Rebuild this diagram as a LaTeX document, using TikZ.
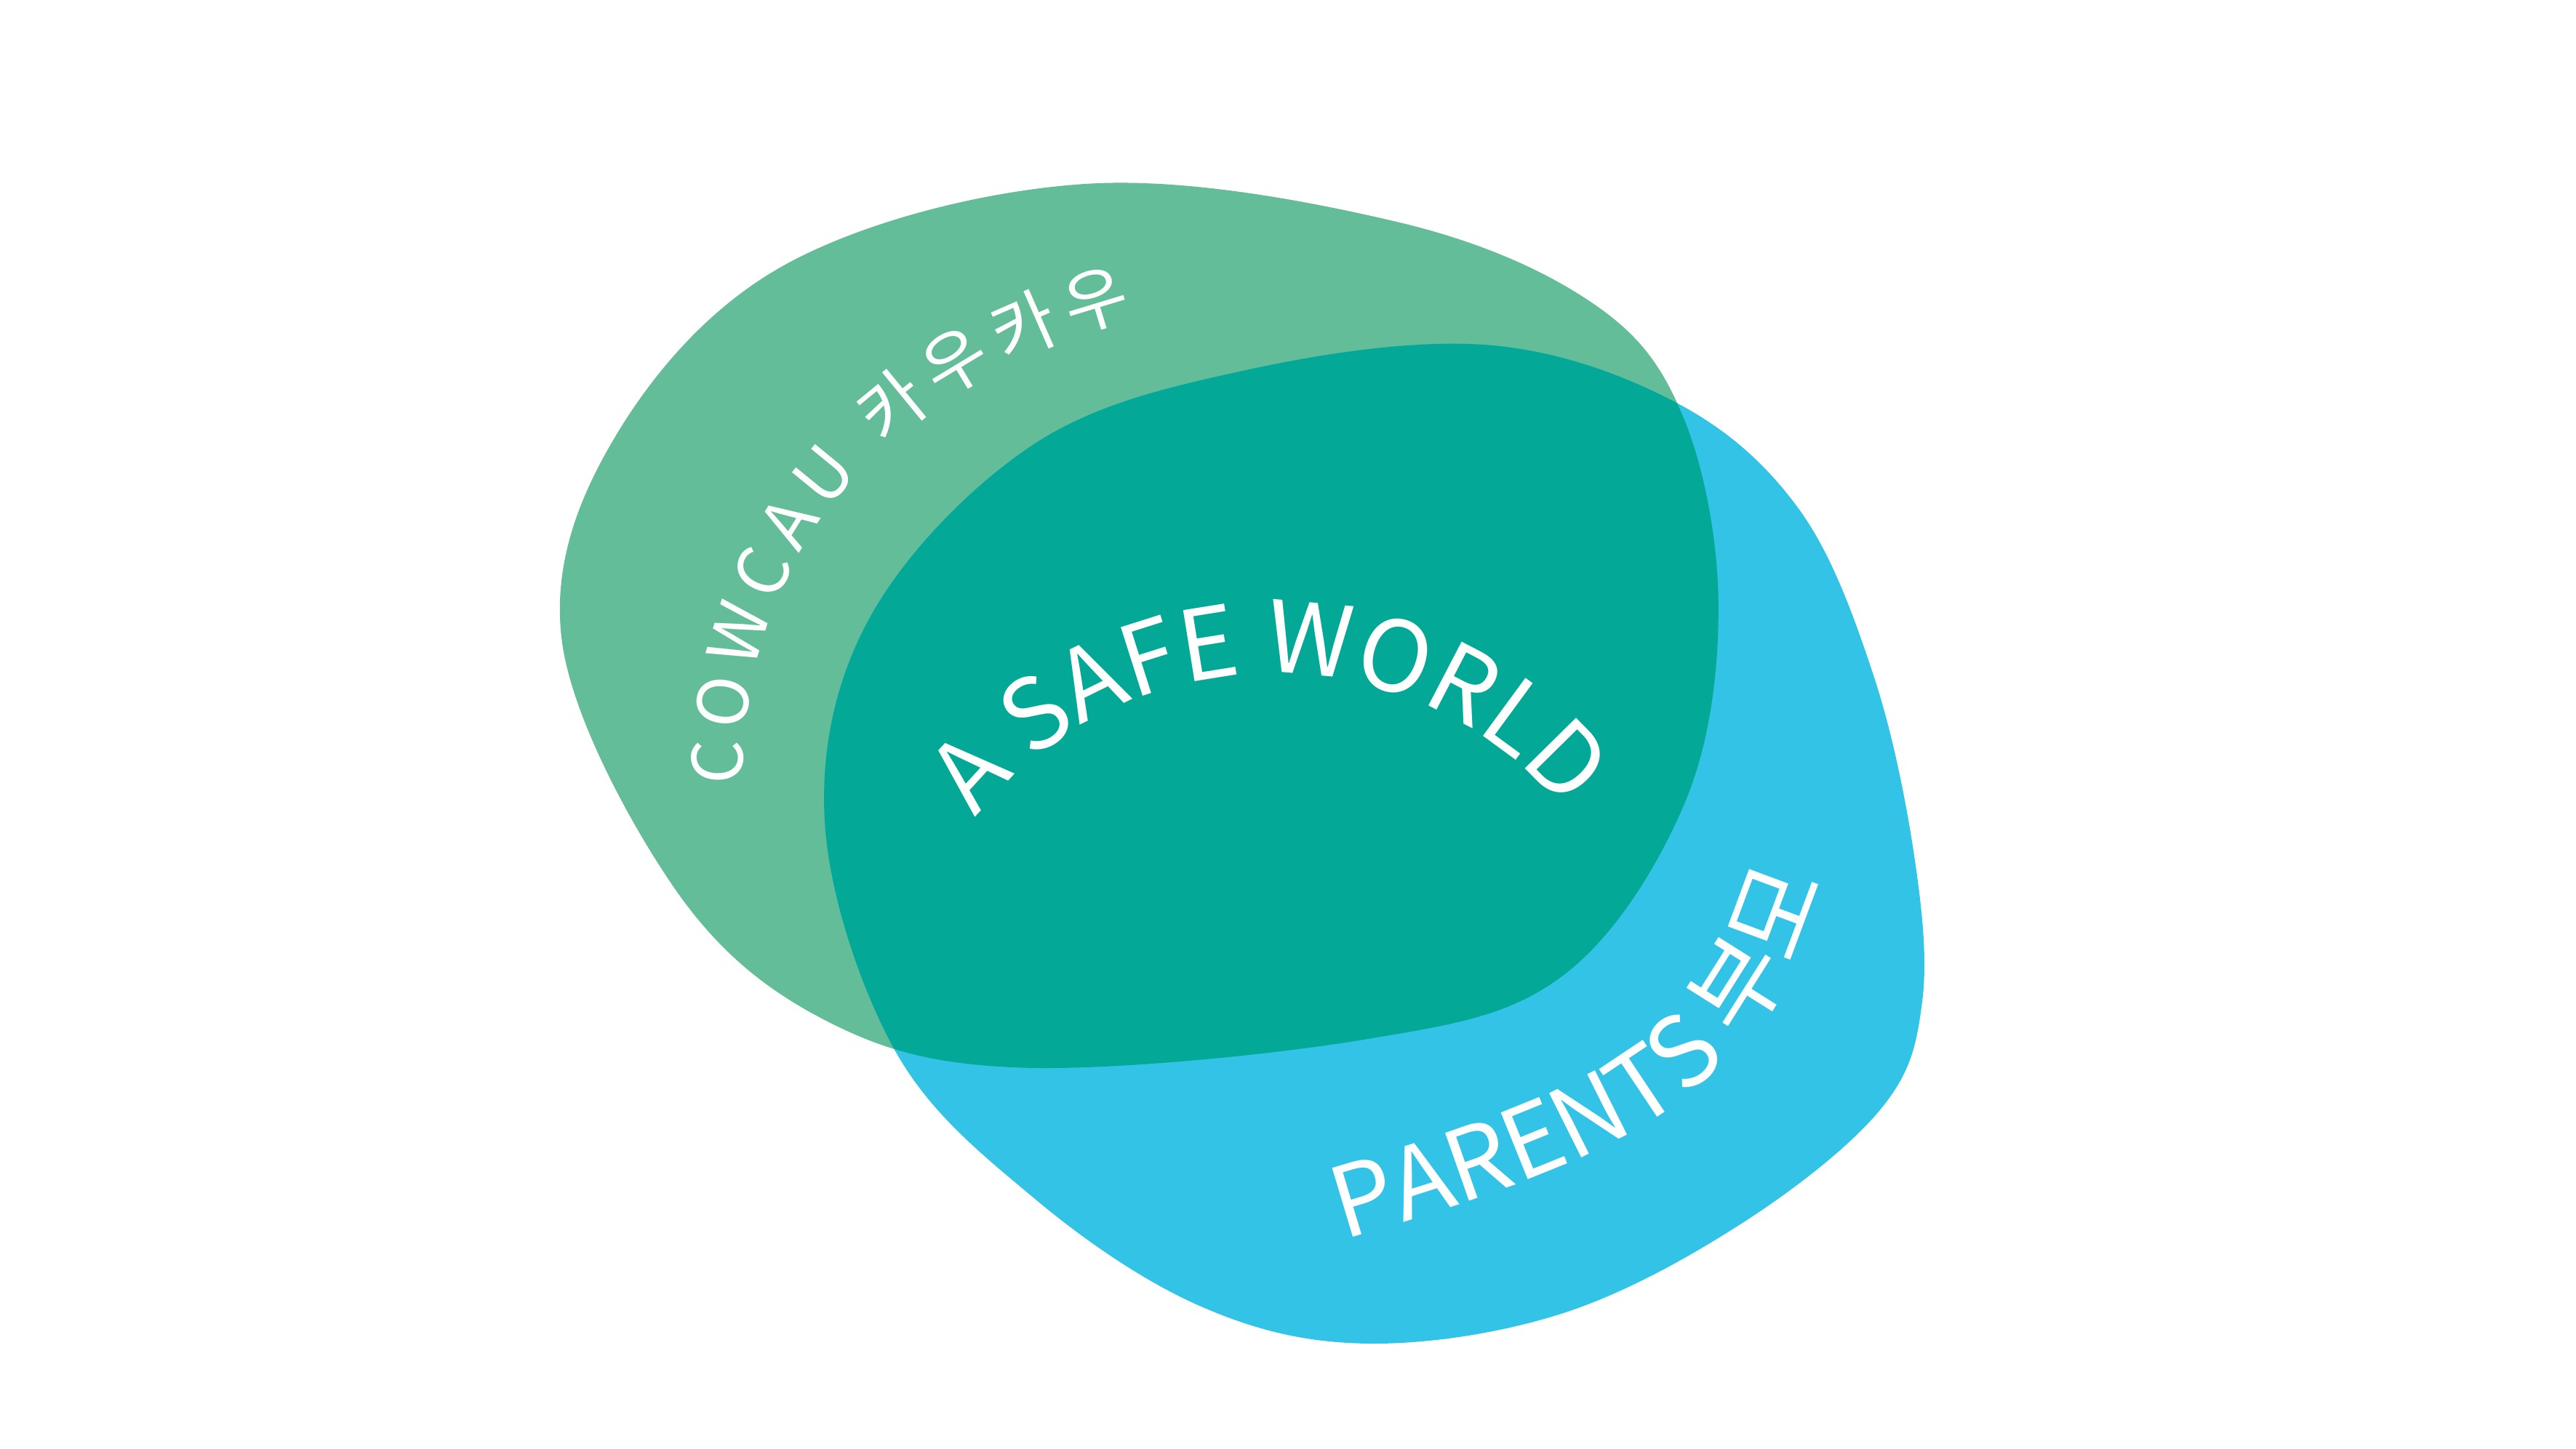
\documentclass[tikz,border=0pt]{standalone}
\usepackage{fontspec}
\newfontfamily\hangul{Noto Sans CJK KR}
\usetikzlibrary{decorations.text}
\definecolor{cowgreen}{HTML}{62BD98}
\definecolor{parentblue}{HTML}{33C3E6}
\definecolor{safeteal}{HTML}{03A996}
\tikzset{
  cowcau/.style={fill=cowgreen},
  parents/.style={fill=parentblue},
  safe/.style={fill=safeteal},
  curvedlabel/.style={decorate, decoration={text along path, text color=white, text align={fit to path}}}
}
% the two blobs
\def\cowcaublob{plot[smooth cycle, tension=0.6] coordinates {
  (6.60,1.12) (8.50,1.35) (9.70,1.85) (10.25,2.55) (10.46,3.70) (10.25,4.90)
  (9.50,5.95) (8.30,6.33) (6.20,6.50) (5.00,6.20) (4.10,5.40) (3.42,3.90)
  (3.75,2.65) (4.80,1.60)}}
\def\parentsblob{plot[smooth cycle, tension=0.6] coordinates {
  (9.05,2.10) (10.20,2.45) (10.95,3.10) (11.40,4.10) (11.65,5.20) (11.70,6.10)
  (11.45,6.75) (10.60,7.45) (9.50,8.00) (8.30,8.18) (7.30,7.95) (6.30,7.30)
  (5.45,6.40) (5.02,5.00) (5.30,3.75) (6.30,2.70) (7.60,2.25)}}

\begin{document}
\begin{tikzpicture}[x=1cm, y=-1cm]
  \fill[white] (0,0) rectangle (15.68,8.82);

  \path[cowcau] \cowcaublob;
  \path[parents] \parentsblob;
  \begin{scope}
    \clip \cowcaublob;
    \path[safe] \parentsblob;
  \end{scope}

  % labels along the edges
  \path[curvedlabel, decoration={text={|\hangul\fontsize{12}{14}\selectfont|COWCAU ^^^^ce74^^^^c6b0^^^^ce74^^^^c6b0}}]
    (4.52,4.78) .. controls (4.50,3.40) and (5.40,2.30) .. (6.90,1.92);
  \path[curvedlabel, decoration={text={|\hangul\fontsize{17}{20}\selectfont|A SAFE WORLD}}]
    (7.75,6.40) ++(-142:2.3) arc[start angle=-142, end angle=-42, radius=2.3];
  \path[curvedlabel, decoration={text={|\hangul\fontsize{17}{20}\selectfont|PARENTS ^^^^bd80^^^^baa8^^^^b2d8}}]
    (8.18,7.55) .. controls (9.20,7.25) and (9.90,7.00) .. (10.35,6.60)
    .. controls (10.75,6.25) and (10.98,5.80) .. (11.12,5.25);
\end{tikzpicture}
\end{document}
